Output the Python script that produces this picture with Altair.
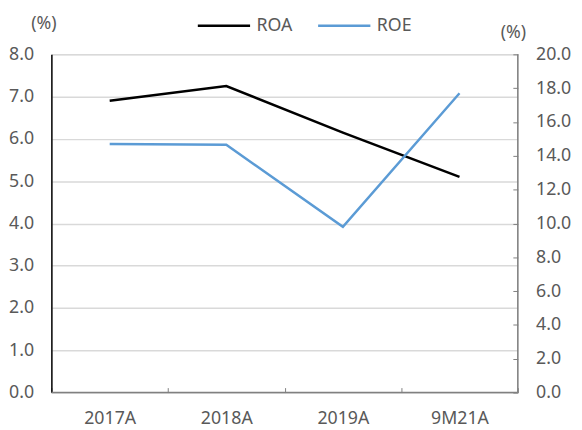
import altair as alt
import pandas as pd

categories = ["2017A", "2018A", "2019A", "9M21A"]
roa = [6.9, 7.25, 6.15, 5.1]
roe = [14.7, 14.65, 9.8, 17.7]
series_names = ["ROA", "ROE"]
series_colors = ["#000000", "#5B9BD5"]
left_ticks = [0, 1, 2, 3, 4, 5, 6, 7, 8]
right_ticks = [0, 2, 4, 6, 8, 10, 12, 14, 16, 18, 20]

df_roa = pd.DataFrame({"cat": categories, "value": roa, "series": "ROA"})
df_roe = pd.DataFrame({"cat": categories, "value": roe, "series": "ROE"})

FONT = "Noto Sans"
LBL = "#595959"
FS = 18

x = alt.X(
    "cat:N", sort=categories, bandPosition=0.5,
    scale=alt.Scale(type="band", paddingInner=0, paddingOuter=0),
    axis=alt.Axis(title=None, offset=-5, tickSize=5, tickBand="extent", domain=False,
                  tickColor="#7f7f7f", tickWidth=1, labelAngle=0, labelPadding=17,
                  labelFont=FONT, labelFontSize=FS, labelColor=LBL, grid=False),
)

color = alt.Color(
    "series:N",
    scale=alt.Scale(domain=series_names, range=series_colors),
    legend=alt.Legend(title=None, orient="none", direction="horizontal",
                      legendX=147, legendY=-57, padding=0,
                      symbolType="stroke", symbolSize=2809, symbolStrokeWidth=2.5,
                      labelFont=FONT, labelFontSize=FS, labelColor=LBL,
                      labelOffset=5, columnPadding=20),
)

roa_line = alt.Chart(df_roa).mark_line(strokeWidth=2.5).encode(
    x=x,
    y=alt.Y("value:Q", scale=alt.Scale(domain=[0, 8], nice=False),
            axis=alt.Axis(values=left_ticks, format=".1f", title="(%)", titleAngle=0,
                          titleX=-8, titleY=-31, titleAlign="center", titleBaseline="middle",
                          titleFont=FONT, titleFontSize=FS, titleFontWeight="normal", titleColor=LBL,
                          labelFont=FONT, labelFontSize=FS, labelColor=LBL, labelPadding=18,
                          ticks=False, domain=True, domainColor="#000000", domainWidth=1.5,
                          grid=True, gridColor="#d9d9d9", gridWidth=1.5)),
    color=color,
)

roe_line = alt.Chart(df_roe).mark_line(strokeWidth=2.5).encode(
    x=x,
    y=alt.Y("value:Q", scale=alt.Scale(domain=[0, 20], nice=False),
            axis=alt.Axis(orient="right", values=right_ticks, format=".1f", title="(%)", titleAngle=0,
                          titleX=0, titleY=-22, titleAlign="center", titleBaseline="middle",
                          titleFont=FONT, titleFontSize=FS, titleFontWeight="normal", titleColor=LBL,
                          labelFont=FONT, labelFontSize=FS, labelColor=LBL, labelPadding=18,
                          offset=-5, tickSize=5, tickColor="#7f7f7f", domain=False, grid=False)),
    color=color,
)

frame_src = pd.DataFrame({"k": [0]})
right_edge = alt.Chart(frame_src).mark_rule(color="#808080", strokeWidth=1.5).encode(
    x=alt.value("width"), y=alt.value(0), y2=alt.value("height"))
bottom_edge = alt.Chart(frame_src).mark_rule(color="#808080", strokeWidth=1.5).encode(
    y=alt.value("height"), x=alt.value(0), x2=alt.value("width"))

chart = (
    alt.layer(roa_line, roe_line, right_edge, bottom_edge)
    .resolve_scale(y="independent")
    .properties(width=473, height=343, autosize=alt.AutoSizeParams(type="none"),
                padding={"left": 44, "top": 44, "right": 57, "bottom": 35})
    .configure_view(stroke=None)
    .configure(background="white")
)

chart.save("out.html", embed_options={"renderer": "svg", "actions": False})
